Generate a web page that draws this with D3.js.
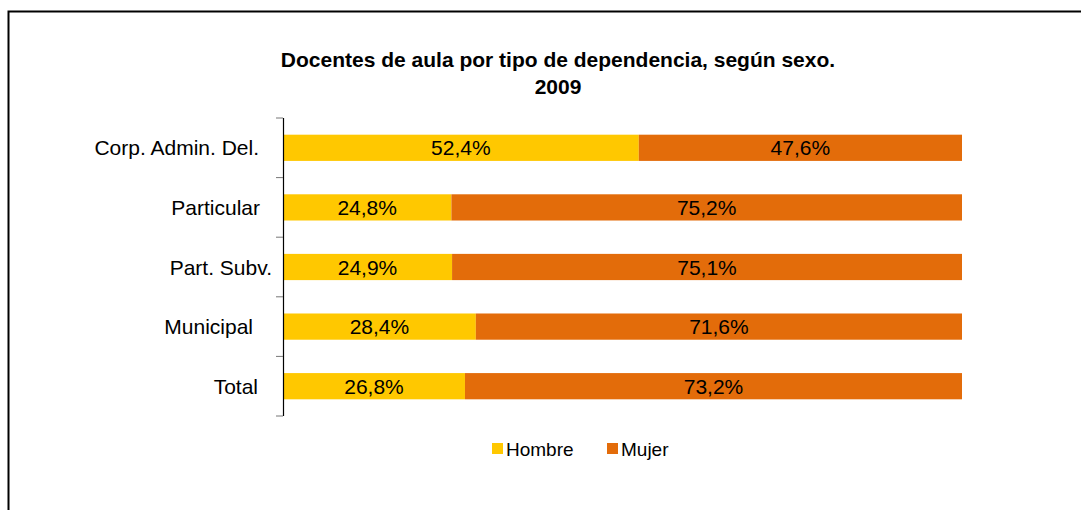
<!DOCTYPE html>
<html>
<head>
<meta charset="utf-8">
<script src="https://cdnjs.cloudflare.com/ajax/libs/d3/7.8.5/d3.min.js"></script>
<style>
  body { margin: 0; background: #fff; }
  svg text { font-family: "Liberation Sans", Arial, sans-serif; }
</style>
</head>
<body>
<svg id="chart" width="1081" height="510"></svg>
<script>
// data
var categories = ["Corp. Admin. Del.", "Particular", "Part. Subv.", "Municipal", "Total"];
var hombre = [52.4, 24.8, 24.9, 28.4, 26.8];
var mujer  = [47.6, 75.2, 75.1, 71.6, 73.2];
var seriesNames = ["Hombre", "Mujer"];
var colors = ["#FFC800", "#E36C0A"];

var svg = d3.select("#chart");

// outer frame (runs past the right and bottom edge in the original)
svg.append("rect")
    .attr("x", 8.5).attr("y", 11.5)
    .attr("width", 1200).attr("height", 600)
    .attr("fill", "none").attr("stroke", "#000").attr("stroke-width", 2);

// title
svg.append("text")
    .attr("x", 558).attr("y", 67)
    .attr("text-anchor", "middle")
    .attr("font-size", "21px").attr("font-weight", "bold")
    .text("Docentes de aula por tipo de dependencia, según sexo.");
svg.append("text")
    .attr("x", 558).attr("y", 94)
    .attr("text-anchor", "middle")
    .attr("font-size", "21px").attr("font-weight", "bold")
    .text("2009");

var x = d3.scaleLinear().domain([0, 100]).range([283, 962]);
var y = d3.scaleBand().domain(categories).range([118, 416]).paddingInner(0.56).paddingOuter(0.28);

var rows = categories.map(function(c, i) {
    return {cat: c, Hombre: hombre[i], Mujer: mujer[i]};
});
var stack = d3.stack().keys(seriesNames)(rows);

var layer = svg.selectAll(".layer")
    .data(stack)
    .enter().append("g")
    .attr("fill", function(d, i) { return colors[i]; });

layer.selectAll("rect")
    .data(function(d) { return d; })
    .enter().append("rect")
    .attr("x", function(d) { return x(d[0]); })
    .attr("y", function(d) { return y(d.data.cat); })
    .attr("width", function(d) { return x(d[1]) - x(d[0]); })
    .attr("height", y.bandwidth());

layer.selectAll("text")
    .data(function(d) { return d; })
    .enter().append("text")
    .attr("x", function(d) { return (x(d[0]) + x(d[1])) / 2; })
    .attr("y", function(d) { return y(d.data.cat) + y.bandwidth() / 2; })
    .attr("dy", "0.36em")
    .attr("text-anchor", "middle")
    .attr("font-size", "21px")
    .attr("fill", "#000")
    .text(function(d) { return (d[1] - d[0]).toFixed(1).replace(".", ",") + "%"; });

// category axis: line with ticks between bands
var yAxisG = svg.append("g");
yAxisG.append("line")
    .attr("x1", 283.5).attr("x2", 283.5)
    .attr("y1", y.range()[0]).attr("y2", y.range()[1])
    .attr("stroke", "#000").attr("stroke-width", 1.2);

var step = (y.range()[1] - y.range()[0]) / categories.length;
yAxisG.selectAll(".tk")
    .data(d3.range(categories.length + 1))
    .enter().append("line")
    .attr("x1", 276).attr("x2", 283)
    .attr("y1", function(i) { return y.range()[0] + i * step; })
    .attr("y2", function(i) { return y.range()[0] + i * step; })
    .attr("stroke", "#777").attr("stroke-width", 1);

// label nudges as in the original layout
var labelEnd = {"Corp. Admin. Del.": 259, "Particular": 260, "Part. Subv.": 272, "Municipal": 253, "Total": 258};
yAxisG.selectAll(".lbl")
    .data(categories)
    .enter().append("text")
    .attr("x", function(d) { return labelEnd[d]; })
    .attr("y", function(d) { return y(d) + y.bandwidth() / 2; })
    .attr("dy", "0.36em")
    .attr("text-anchor", "end")
    .attr("font-size", "21px")
    .attr("fill", "#000")
    .text(function(d) { return d; });

// legend
var legendX = [492, 607];
var leg = svg.selectAll(".leg")
    .data(seriesNames)
    .enter().append("g")
    .attr("transform", function(d, i) { return "translate(" + legendX[i] + ",443)"; });
leg.append("rect")
    .attr("width", 11).attr("height", 11)
    .attr("fill", function(d, i) { return colors[i]; });
leg.append("text")
    .attr("x", 14).attr("y", 6)
    .attr("dy", "0.36em")
    .attr("font-size", "19px")
    .attr("fill", "#000")
    .text(function(d) { return d; });
</script>
</body>
</html>
